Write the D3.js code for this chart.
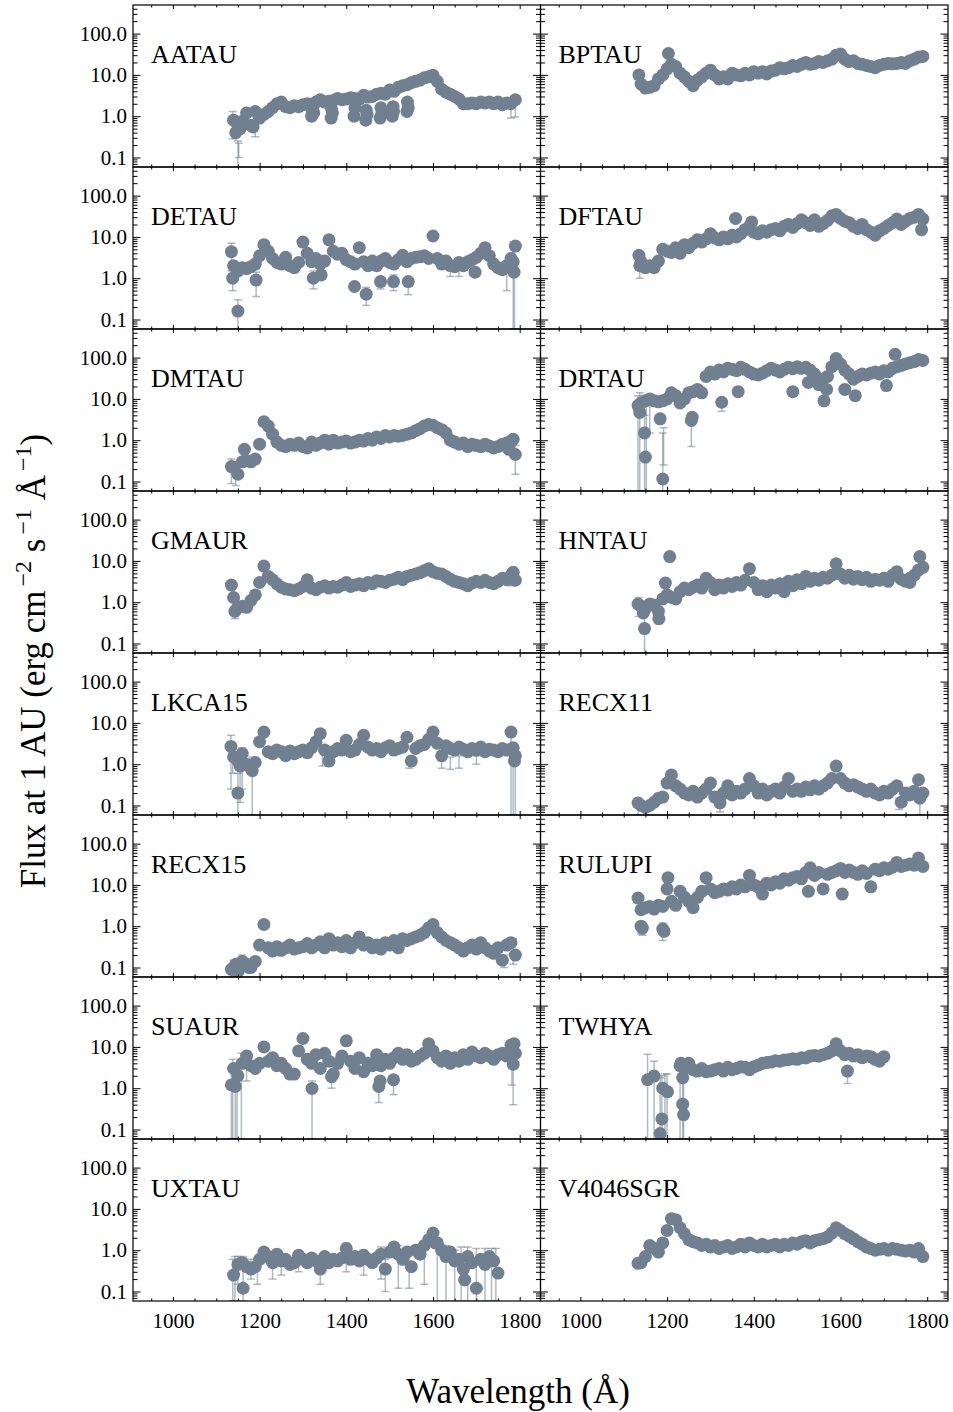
<!DOCTYPE html>
<html><head><meta charset="utf-8">
<script src="https://cdn.jsdelivr.net/npm/d3@7/dist/d3.min.js"></script>
<style>body{margin:0;background:#fff}svg{display:block}text{font-family:"Liberation Serif","Times New Roman",serif;fill:#000}</style>
</head><body><svg id="c" width="953" height="1412"></svg>
<script>
const wavelengths = [1140,1150,1160,1170,1180,1190,1200,1210,1220,1230,1240,1250,1260,1270,1280,1290,1300,1310,1320,1330,1340,1350,1360,1370,1380,1390,1400,1410,1420,1430,1440,1450,1460,1470,1480,1490,1500,1510,1520,1530,1540,1550,1560,1570,1580,1590,1600,1610,1620,1630,1640,1650,1660,1670,1680,1690,1700,1710,1720,1730,1740,1750,1760,1770,1780,1790];
const starNames = ["AATAU","BPTAU","DETAU","DFTAU","DMTAU","DRTAU","GMAUR","HNTAU","LKCA15","RECX11","RECX15","RULUPI","SUAUR","TWHYA","UXTAU","V4046SGR"];
const xTicks = [1000,1200,1400,1600,1800];
const xMinorTicks = [950,1050,1100,1150,1250,1300,1350,1450,1500,1550,1650,1700,1750];
const yTicks = [0.1,1,10,100];
const yTickLabels = ["0.1","1.0","10.0","100.0"];
const yMinorTicks = [0.07,0.08,0.09,0.2,0.3,0.4,0.5,0.6,0.7,0.8,0.9,2,3,4,5,6,7,8,9,20,30,40,50,60,70,80,90,200,300,400];

const fluxAATAU = [0.8,0.6,0.75,1.2,0.6,1.3,0.9,1.1,1.3,1.6, 2.0,2.2,1.7,1.6,1.8,1.7,1.9,2.0,1.9,2.2, 2.5,2.2,2.3,2.4,2.7,2.5,2.6,2.8,2.7,2.6, 3.2,2.9,3.0,3.4,3.6,3.4,4.3,4.0,5.0,5.5, 5.8,6.5,7.0,7.5,8.5,9.0,9.8,7.0,4.5,3.8, 3.4,3.0,2.6,2.0,2.0,2.1,2.0,2.2,2.1,2.2, 2.0,2.2,1.9,2.1,2.0,2.5];
const fluxBPTAU = [6,4.8,5.0,5.5,8.0,10,14,18,16,11, 9,7,5.5,7.5,9,11,13,10,8,9, 8,11,10,9.5,11,10,12,11,12,10.5, 12.5,13,15,14,15,17,16,18,20,18, 19,21,20,22,24,30,32,24,21,22, 19,18,17,16,15,17,18,19,18.5,19, 20,19,22,24,27,28];
const fluxDETAU = [2.0,1.5,1.8,1.7,1.9,2.2,3.5,6.5,4.5,3.0, 2.4,2.2,3.2,2.0,1.8,2.4,7.5,4.0,2.5,3.0, 2.2,2.6,8.5,4.5,3.8,4.0,2.8,2.5,2.2,5.5, 2.5,2.0,2.6,2.0,2.6,3.0,2.4,2.2,2.8,3.6, 2.5,3.0,3.2,3.3,3.5,3.0,10.5,3.0,2.2,2.6, 2.0,1.9,2.4,2.0,2.5,2.8,3.2,4.0,5.5,3.5, 2.2,1.8,1.6,2.0,3.0,6.0];
const fluxDFTAU = [2.5,1.8,2.0,1.8,2.6,5.0,4.5,4.2,5.5,4.0, 6.5,5.5,7.0,8.5,7.5,9.0,12,9.5,8.5,10, 9.0,11,10,12,15,18,13,12,14,13, 15,16,14,18,20,17,21,26,22,19, 26,18,21,25,32,35,28,24,22,18, 16,20,15,13,11,14,16,19,22,27, 20,24,28,30,35,27];
const fluxDMTAU = [0.22,0.15,0.3,0.32,0.3,0.35,0.8,2.8,2.2,1.4, 0.9,0.75,0.7,0.8,0.75,0.85,0.7,0.65,0.9,0.75, 0.85,1.0,0.8,1.0,0.85,0.9,0.95,0.85,0.9,1.0, 0.95,1.1,1.0,1.2,1.1,1.3,1.2,1.3,1.25,1.3, 1.4,1.5,1.7,1.9,2.2,2.4,2.3,2.0,1.8,1.5, 1.0,0.9,0.8,0.85,0.7,0.8,0.75,0.7,0.8,0.72, 0.65,0.7,0.8,0.85,0.95,0.45];
const fluxDRTAU = [8,9,10,9,8.5,9,10,14,12,8, 10,14,15,17,14,35,45,40,50,45, 55,52,48,58,52,45,40,38,42,48, 55,50,45,52,58,54,60,55,58,50, 40,22,30,35,60,80,70,50,40,30, 35,40,38,42,45,40,48,45,55,60, 65,70,75,80,90,85];
const fluxGMAUR = [1.3,0.75,0.8,0.75,1.1,1.5,3.0,7.5,4.2,3.5, 2.8,2.3,2.1,2.0,1.9,2.1,2.4,3.5,2.2,2.0, 2.3,2.5,2.2,2.4,2.3,2.6,3.0,2.4,2.6,2.8, 2.5,3.0,2.8,3.3,3.2,3.0,3.4,3.6,4.0,3.5, 4.2,4.5,4.8,5.2,5.8,6.5,5.5,5.0,4.8,4.2, 3.6,3.2,3.0,2.8,2.5,2.9,3.2,3.0,3.4,3.0, 2.8,3.2,3.8,3.5,4.5,3.4];
const fluxHNTAU = [0.8,0.7,0.9,0.85,0.6,1.2,1.5,1.3,1.2,1.8, 2.2,2.0,2.3,2.6,2.2,3.8,3.0,2.0,2.6,2.2, 2.8,2.4,3.0,2.6,3.4,6.5,3.0,2.0,2.5,1.8, 2.6,2.2,2.8,1.8,3.2,2.5,3.5,2.8,4.2,3.2, 3.8,3.4,4.0,3.8,4.5,8.5,4.8,3.8,4.5,3.6, 4.2,3.5,4.0,3.2,3.6,3.4,3.8,3.2,4.5,5.5, 3.6,3.2,3.8,4.5,6.0,7.0];
const fluxLKCA15 = [1.5,1.2,1.8,1.0,0.8,1.1,3.5,6.0,2.0,1.8, 2.2,2.0,1.6,2.1,1.8,2.0,2.2,1.9,2.5,3.5, 5.5,2.2,1.2,2.0,2.4,2.2,3.8,2.0,2.2,3.0, 5.0,2.6,2.2,2.4,2.0,2.5,2.8,2.2,2.4,2.6, 4.5,1.2,2.4,2.8,3.0,4.0,6.0,3.2,1.6,2.8, 2.4,2.2,2.6,2.3,2.0,2.4,2.2,2.6,2.0,2.3, 2.2,2.0,2.4,2.2,6.0,1.6];
const fluxRECX11 = [0.1,0.09,0.1,0.12,0.15,0.16,0.35,0.55,0.3,0.25, 0.2,0.18,0.22,0.16,0.2,0.25,0.35,0.16,0.14,0.2, 0.3,0.18,0.22,0.2,0.25,0.45,0.3,0.2,0.25,0.18, 0.22,0.25,0.2,0.28,0.45,0.22,0.25,0.22,0.28,0.24, 0.3,0.25,0.3,0.35,0.45,0.9,0.45,0.35,0.3,0.32, 0.28,0.25,0.22,0.25,0.2,0.18,0.22,0.2,0.25,0.3, 0.12,0.2,0.18,0.22,0.42,0.2];
const fluxRECX15 = [0.1,0.08,0.14,0.12,0.1,0.14,0.35,1.1,0.3,0.25, 0.32,0.26,0.3,0.35,0.28,0.3,0.32,0.38,0.3,0.35, 0.42,0.3,0.5,0.35,0.4,0.32,0.45,0.3,0.4,0.55, 0.35,0.4,0.3,0.35,0.28,0.4,0.35,0.45,0.3,0.5, 0.45,0.5,0.55,0.6,0.7,0.9,1.1,0.7,0.55,0.45, 0.4,0.35,0.3,0.25,0.3,0.35,0.28,0.4,0.3,0.25, 0.22,0.3,0.15,0.35,0.4,0.2];
const fluxRULUPI = [2.5,2.8,3.0,2.6,3.2,3.0,8.0,4.0,3.2,7.0, 5.0,4.0,2.8,5.0,7.0,15,8.0,6.5,7.0,8.0, 7.5,9.0,8.0,10,9.0,17,10,9.0,6.0,11, 10,12,11,14,13,15,16,14,20,26, 17,20,8.0,18,20,22,25,20,23,20, 18,22,19,9.0,24,22,26,24,27,35, 28,30,32,30,45,28];
const fluxSUAUR = [3.0,2.0,4.0,6.0,3.5,3.0,4.0,10,4.5,5.5, 3.5,4.0,3.0,2.2,2.2,8.0,16,5.0,4.0,6.5, 3.0,7.0,4.5,2.2,4.0,6.0,14,4.5,3.0,5.5, 2.5,4.0,3.5,6.5,3.5,5.0,4.0,5.5,7.0,5.0, 6.5,4.5,5.0,6.0,7.0,12,8.0,5.5,4.5,6.0, 4.0,5.5,4.5,6.5,5.0,7.5,6.0,5.5,7.0,6.0, 5.0,6.5,7.0,6.0,11,7.0];
const fluxTWHYA = [null,null,null,null,null,null,null,null,null,3.5, 3.0,4.0,2.8,2.6,3.0,2.5,2.6,2.8,3.0,2.6, 3.2,2.8,3.0,3.3,3.2,2.8,3.3,3.6,4.0,4.2, 4.3,4.6,4.5,4.8,4.9,5.2,5.0,5.5,5.4,6.0, 6.2,6.0,6.5,7.0,8.0,12,8.0,6.5,7.0,6.0, 6.5,5.5,6.0,5.8,5.0,4.5,5.8,null,null,null, null,null,null,null,null,null];
const fluxUXTAU = [0.25,0.45,0.5,0.4,0.35,0.4,0.6,0.9,0.7,0.5, 0.8,0.55,0.6,0.45,0.5,0.75,0.6,0.5,0.65,0.55, 0.35,0.7,0.5,0.6,0.55,0.65,1.1,0.6,0.7,0.55, 0.75,0.6,0.5,0.65,0.8,0.35,0.9,1.2,0.8,0.6, 0.9,0.4,1.0,0.8,1.3,1.8,2.6,1.5,1.0,0.7, 0.9,0.55,0.6,0.35,0.7,0.5,0.12,0.6,0.45,0.7, 0.55,0.28,null,null,null,null];
const fluxV4046SGR = [0.5,0.7,1.3,1.1,0.9,1.5,3.0,5.8,5.5,3.5, 2.5,1.8,1.6,1.5,1.3,1.4,1.2,1.3,1.1,1.2, 1.3,1.1,1.2,1.4,1.2,1.5,1.3,1.2,1.4,1.2, 1.3,1.4,1.2,1.4,1.3,1.5,1.4,1.6,1.7,1.5, 1.7,1.8,1.9,2.1,2.6,3.5,3.0,2.5,2.2,1.9, 1.6,1.4,1.2,1.1,1.0,1.05,1.1,1.0,1.1,1.05, 1.0,0.95,1.0,0.9,1.1,0.7];

const extraAATAU = [[1145,0.4],[1155,0.5],[1185,0.55],[1320,1.0],[1322,1.4],[1325,1.2],[1365,0.9],[1366,1.5],[1368,1.2],[1418,1.0],[1420,1.6],[1445,0.8],[1446,1.4],[1448,1.1],[1478,0.9],[1480,1.6],[1482,1.2],[1506,1.0],[1508,1.7],[1509,1.3],[1540,1.3],[1541,2.2],[1543,1.6]];
const extraBPTAU = [[1135,10],[1203,33]];
const extraDETAU = [[1135,4.4],[1138,1.0],[1150,0.16],[1192,0.9],[1324,1.0],[1342,1.2],[1419,0.63],[1446,0.41],[1479,0.83],[1509,0.83],[1543,0.83],[1697,1.4],[1785,2.5],[1787,1.4]];
const extraDFTAU = [[1135,3.6],[1137,2.0],[1358,28],[1395,23],[1787,15]];
const extraDMTAU = [[1135,0.23],[1165,0.6],[1775,0.6],[1785,1.05]];
const extraDRTAU = [[1133,6.9],[1137,4.7],[1148,1.5],[1150,0.39],[1184,3.3],[1190,0.115],[1256,3.0],[1258,3.6],[1326,8.3],[1364,15],[1490,15],[1526,25],[1562,9],[1568,17],[1590,95],[1610,17],[1634,12],[1706,21],[1726,120]];
const extraGMAUR = [[1135,2.6],[1143,0.6],[1785,5.3]];
const extraHNTAU = [[1133,0.9],[1145,0.55],[1148,0.23],[1181,0.4],[1196,2.9],[1206,12.7],[1760,3.0],[1783,12.7]];
const extraLKCA15 = [[1134,2.7],[1150,0.2],[1155,0.9],[1183,0.7],[1785,2.5],[1788,1.2]];
const extraRECX11 = [[1133,0.115],[1322,0.115],[1783,0.15]];
const extraRECX15 = [[1135,0.09],[1145,0.12],[1175,0.1]];
const extraRULUPI = [[1133,4.8],[1140,1.0],[1143,0.9],[1190,0.85],[1193,0.75],[1202,15],[1526,7.0],[1604,6.0]];
const extraSUAUR = [[1135,1.2],[1144,1.1],[1321,0.99],[1366,1.9],[1475,1.1],[1478,1.5],[1509,1.6],[1785,3.8],[1787,12]];
const extraTWHYA = [[1155,1.6],[1170,1.97],[1184,0.08],[1188,0.18],[1190,1.0],[1201,0.82],[1232,4.0],[1236,1.8],[1236,0.41],[1238,0.23],[1616,2.6]];
const extraUXTAU = [[1162,0.12],[1605,1.5],[1673,0.19]];
const extraV4046SGR = [[1133,0.48]];

const errAATAU = [[1138,0.28,1.3],[1150,0.06,0.25],[1152,0.1,0.22],[1190,0.32,1.5],[1320,0.75,1.3],[1780,0.9,2.5],[1790,0.95,3.0]];
const errBPTAU = [];
const errDETAU = [[1135,1.5,7],[1138,0.5,1.6],[1150,0.06,0.3],[1192,0.36,1.4],[1324,0.55,1.5],[1446,0.22,0.6],[1479,0.55,1.0],[1509,0.5,1.2],[1543,0.4,1.0],[1640,1.1,2.5],[1660,1.1,2.0],[1770,0.5,2.5],[1785,0.06,7.5],[1788,0.06,6]];
const errDFTAU = [[1137,1.0,3.0]];
const errDMTAU = [[1135,0.09,0.35],[1145,0.08,0.3],[1700,0.55,0.9],[1790,0.15,0.75]];
const errDRTAU = [[1133,0.06,12],[1137,0.06,14],[1148,0.06,4],[1152,0.06,11],[1160,1.5,11],[1190,0.06,1.5],[1192,0.25,2.0],[1256,0.7,4.5],[1326,5,9],[1490,12,17],[1526,20,30],[1562,7,10]];
const errGMAUR = [[1143,0.4,0.8],[1780,2.5,4]];
const errHNTAU = [[1135,0.45,1.3],[1148,0.06,0.5],[1181,0.3,0.55]];
const errLKCA15 = [[1134,0.25,5],[1138,0.6,2.5],[1150,0.06,0.6],[1155,0.12,2],[1160,0.25,2.5],[1183,0.06,1.5],[1345,0.9,2],[1360,0.9,1.5],[1545,0.8,1.2],[1620,0.8,1.2],[1640,0.75,1.5],[1660,0.8,1.6],[1700,1.0,1.6],[1780,0.06,7],[1785,0.06,3],[1790,0.06,2.5]];
const errRECX11 = [[1133,0.06,0.15],[1322,0.07,0.14],[1735,0.08,0.15],[1783,0.06,0.2]];
const errRECX15 = [[1140,0.06,0.15],[1160,0.08,0.2],[1765,0.1,0.2],[1785,0.12,0.5]];
const errRULUPI = [[1140,0.65,1.2],[1143,0.6,1.1],[1190,0.45,1.2],[1604,5,7]];
const errSUAUR = [[1135,0.06,3],[1138,0.06,5],[1144,0.06,2.5],[1148,0.06,3],[1158,0.06,7],[1170,1.5,6],[1321,0.06,1.5],[1366,1.0,2.5],[1475,0.45,1.5],[1509,0.7,2],[1782,1.2,3],[1785,0.4,8],[1787,3,14]];
const errTWHYA = [[1155,0.06,6.6],[1170,0.06,4.5],[1184,0.06,1.8],[1188,0.06,2.0],[1195,0.06,2.2],[1200,0.06,2.2],[1230,0.06,5],[1236,0.06,4.5],[1238,0.06,1.5],[1616,1.3,3.2]];
const errUXTAU = [[1138,0.06,0.6],[1143,0.06,0.7],[1150,0.15,0.7],[1162,0.06,0.7],[1180,0.2,0.6],[1195,0.15,0.5],[1230,0.2,0.7],[1250,0.25,0.5],[1290,0.3,0.9],[1340,0.15,0.5],[1400,0.3,1.5],[1440,0.25,1.0],[1480,0.2,1.2],[1490,0.1,0.6],[1520,0.12,1.3],[1545,0.12,1.0],[1580,0.15,1.5],[1610,0.06,1.5],[1630,0.06,1.3],[1650,0.06,1.0],[1665,0.06,1.2],[1680,0.06,1.2],[1700,0.06,1.1],[1720,0.06,1.1],[1735,0.06,1.1],[1745,0.06,1.1]];
const errV4046SGR = [];

const fluxes = [fluxAATAU,fluxBPTAU,fluxDETAU,fluxDFTAU,fluxDMTAU,fluxDRTAU,fluxGMAUR,fluxHNTAU,fluxLKCA15,fluxRECX11,fluxRECX15,fluxRULUPI,fluxSUAUR,fluxTWHYA,fluxUXTAU,fluxV4046SGR];
const extras = [extraAATAU,extraBPTAU,extraDETAU,extraDFTAU,extraDMTAU,extraDRTAU,extraGMAUR,extraHNTAU,extraLKCA15,extraRECX11,extraRECX15,extraRULUPI,extraSUAUR,extraTWHYA,extraUXTAU,extraV4046SGR];
const errs = [errAATAU,errBPTAU,errDETAU,errDFTAU,errDMTAU,errDRTAU,errGMAUR,errHNTAU,errLKCA15,errRECX11,errRECX15,errRULUPI,errSUAUR,errTWHYA,errUXTAU,errV4046SGR];

const stars = starNames.map((name,i)=>({
  name,
  points: wavelengths.map((w,j)=>[w,fluxes[i][j]]).filter(p=>p[1]!=null).concat(extras[i]),
  errs: errs[i]
}));

const svg = d3.select("#c");
const left0 = 133, top0 = 5, pw = 407.5, ph = 162;
const x = d3.scaleLinear().domain([908,1848]).range([0,pw]);
const y = d3.scaleLog().domain([0.0589,492.6]).range([ph,0]);
const col = "#708090";

stars.forEach((s,i)=>{
  const c = i%2, r = Math.floor(i/2);
  const g = svg.append("g").attr("transform",`translate(${left0+c*pw},${top0+r*ph})`);
  const cid = "clip"+i;
  g.append("clipPath").attr("id",cid).append("rect").attr("width",pw).attr("height",ph);
  const d = g.append("g").attr("clip-path",`url(#${cid})`);
  const eg = d.append("g").attr("stroke",col).attr("stroke-opacity",0.55).attr("stroke-width",1.5).attr("fill","none");
  s.errs.forEach(e=>{
    const xx = x(e[0]), y1 = y(e[1]), y2 = y(e[2]);
    eg.append("line").attr("x1",xx).attr("x2",xx).attr("y1",y1).attr("y2",y2);
    eg.append("line").attr("x1",xx-4).attr("x2",xx+4).attr("y1",y1).attr("y2",y1);
    eg.append("line").attr("x1",xx-4).attr("x2",xx+4).attr("y1",y2).attr("y2",y2);
  });
  d.append("g").selectAll("circle").data(s.points).join("circle")
    .attr("cx",p=>x(p[0])).attr("cy",p=>y(p[1])).attr("r",6.5).attr("fill",col);

  const ax = (gen, tr) => {
    const a = g.append("g").attr("transform",tr).call(gen);
    a.select(".domain").remove();
    a.selectAll("line").attr("stroke","#000").attr("stroke-width",1);
    return a;
  };
  const fmtNone = ()=>"";
  ax(d3.axisBottom(x).tickValues(xTicks).tickSizeInner(-4).tickSizeOuter(0).tickPadding(12)
       .tickFormat(r===7 ? d3.format("d") : fmtNone), `translate(0,${ph})`);
  ax(d3.axisBottom(x).tickValues(xMinorTicks).tickSizeInner(-2.5).tickSizeOuter(0).tickFormat(fmtNone), `translate(0,${ph})`);
  ax(d3.axisTop(x).tickValues(xTicks).tickSizeInner(-4).tickSizeOuter(0).tickFormat(fmtNone), "translate(0,0)");
  ax(d3.axisTop(x).tickValues(xMinorTicks).tickSizeInner(-2.5).tickSizeOuter(0).tickFormat(fmtNone), "translate(0,0)");
  ax(d3.axisLeft(y).tickValues(yTicks).tickSizeInner(-7.5).tickSizeOuter(0).tickPadding(6)
       .tickFormat(c===0 ? ((v,k)=>yTickLabels[k]) : fmtNone), "translate(0,0)");
  ax(d3.axisLeft(y).tickValues(yMinorTicks).tickSizeInner(-4.5).tickSizeOuter(0).tickFormat(fmtNone), "translate(0,0)");
  ax(d3.axisRight(y).tickValues(yTicks).tickSizeInner(-7.5).tickSizeOuter(0).tickFormat(fmtNone), `translate(${pw},0)`);
  ax(d3.axisRight(y).tickValues(yMinorTicks).tickSizeInner(-4.5).tickSizeOuter(0).tickFormat(fmtNone), `translate(${pw},0)`);
  g.selectAll(".tick text").attr("font-size",21).attr("font-family",'"Liberation Serif","Times New Roman",serif').attr("fill","#000");

  g.append("rect").attr("width",pw).attr("height",ph).attr("fill","none").attr("stroke","#000").attr("stroke-width",1.2);
  g.append("text").attr("x",18).attr("y",58).attr("font-size",26).text(s.name);
});

svg.append("text").attr("x",518).attr("y",1403).attr("text-anchor","middle").attr("font-size",35).text("Wavelength (Å)");

const yt = svg.append("text").attr("transform","translate(45,661) rotate(-90)").attr("text-anchor","middle").attr("font-size",35);
yt.append("tspan").text("Flux at 1 AU (erg cm");
yt.append("tspan").attr("font-size",24).attr("dx",4).attr("dy",-14).text("−2");
yt.append("tspan").attr("dy",14).text(" s");
yt.append("tspan").attr("font-size",24).attr("dx",4).attr("dy",-14).text("−1");
yt.append("tspan").attr("dy",14).text(" Å");
yt.append("tspan").attr("font-size",24).attr("dx",4).attr("dy",-14).text("−1");
yt.append("tspan").attr("dy",14).text(")");
</script></body></html>
